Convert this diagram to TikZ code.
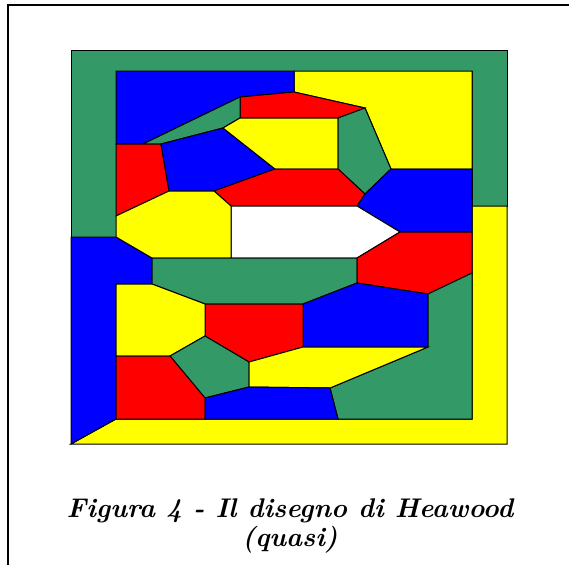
\documentclass[tikz,border=0pt]{standalone}
\usepackage{fontspec}
\usepackage{tikz}
\usetikzlibrary{positioning}
\usepackage{xcolor}

\definecolor{mapgreen}{HTML}{339966}
\definecolor{mapblue}{HTML}{0000FF}
\definecolor{mapred}{HTML}{FF0000}
\definecolor{mapyellow}{HTML}{FFFF00}

\begin{document}
\begin{tikzpicture}[
  x=1pt, y=-1pt,
  region/.style={draw=black, line width=1pt, line join=miter},
  grn/.style={region, fill=mapgreen},
  blu/.style={region, fill=mapblue},
  rd/.style={region, fill=mapred},
  yel/.style={region, fill=mapyellow},
  wht/.style={region, fill=white},
  frame/.style={draw=black, line width=2pt},
  caption/.style={align=center, inner sep=0pt,
                  font=\fontsize{27}{29}\selectfont\bfseries\itshape}
]
\useasboundingbox (0,0) rectangle (569,565);

% ----- page frame -----
\draw[frame] (569,5) -- (8,5) -- (8,565);

% ----- outer ring -----
\draw[grn] (71,50) -- (507,50) -- (507,206) -- (472,206) -- (472,71)
  -- (116,71) -- (116,237) -- (71,237) -- cycle;
\draw[yel] (71,444) -- (507,444) -- (507,206) -- (472,206) -- (472,419)
  -- (116,419) -- cycle;
\draw[blu] (71,237) -- (116,237) -- (152,258) -- (152,284) -- (116,284)
  -- (116,419) -- (71,444) -- cycle;

% ----- top part -----
\draw[yel] (294,71) -- (472,71) -- (472,169) -- (391,169) -- (365,108)
  -- (294,92) -- cycle;
\draw[blu] (116,71) -- (294,71) -- (294,92) -- (240,97) -- (143,144)
  -- (116,144) -- cycle;
\draw[rd] (240,97) -- (294,92) -- (365,108) -- (338,118) -- (240,118) -- cycle;
\draw[grn] (240,97) -- (240,118) -- (223,128) -- (161,144) -- (143,144) -- cycle;
\draw[rd] (116,144) -- (161,144) -- (169,191) -- (116,216) -- cycle;
\draw[blu] (161,144) -- (223,128) -- (275,169) -- (214,191) -- (169,191) -- cycle;
\draw[yel] (240,118) -- (338,118) -- (338,169) -- (275,169) -- (223,128) -- cycle;
\draw[grn] (338,118) -- (365,108) -- (391,169) -- (365,194) -- (338,169) -- cycle;
\draw[rd] (214,191) -- (275,169) -- (338,169) -- (365,194) -- (357,206)
  -- (231,206) -- cycle;
\draw[blu] (391,169) -- (472,169) -- (472,232) -- (400,232) -- (357,206)
  -- (365,194) -- cycle;

% ----- middle part -----
\draw[wht] (231,206) -- (357,206) -- (400,232) -- (357,258) -- (231,258) -- cycle;
\draw[yel] (116,216) -- (169,191) -- (214,191) -- (231,206) -- (231,258)
  -- (152,258) -- (116,237) -- cycle;
\draw[grn] (152,258) -- (357,258) -- (357,283) -- (303,304) -- (205,304)
  -- (152,284) -- cycle;
\draw[rd] (400,232) -- (472,232) -- (472,273) -- (428,294) -- (357,283)
  -- (357,258) -- cycle;

% ----- bottom part -----
\draw[blu] (303,304) -- (357,283) -- (428,294) -- (428,347) -- (303,347) -- cycle;
\draw[grn] (428,294) -- (472,273) -- (472,419) -- (338,419) -- (330,388)
  -- (428,347) -- cycle;
\draw[rd] (205,304) -- (303,304) -- (303,347) -- (249,362) -- (205,336) -- cycle;
\draw[yel] (116,284) -- (152,284) -- (205,304) -- (205,336) -- (170,356)
  -- (116,356) -- cycle;
\draw[grn] (205,336) -- (249,362) -- (249,387) -- (205,398) -- (170,356) -- cycle;
\draw[yel] (249,362) -- (303,347) -- (428,347) -- (330,388) -- (249,387) -- cycle;
\draw[rd] (116,356) -- (170,356) -- (205,398) -- (205,419) -- (116,419) -- cycle;
\draw[blu] (205,398) -- (249,387) -- (330,388) -- (338,419) -- (205,419) -- cycle;

% ----- caption -----
\node[caption] (cap) at (290,526) {Figura 4 - Il disegno di Heawood\\(quasi)};

\end{tikzpicture}
\end{document}
